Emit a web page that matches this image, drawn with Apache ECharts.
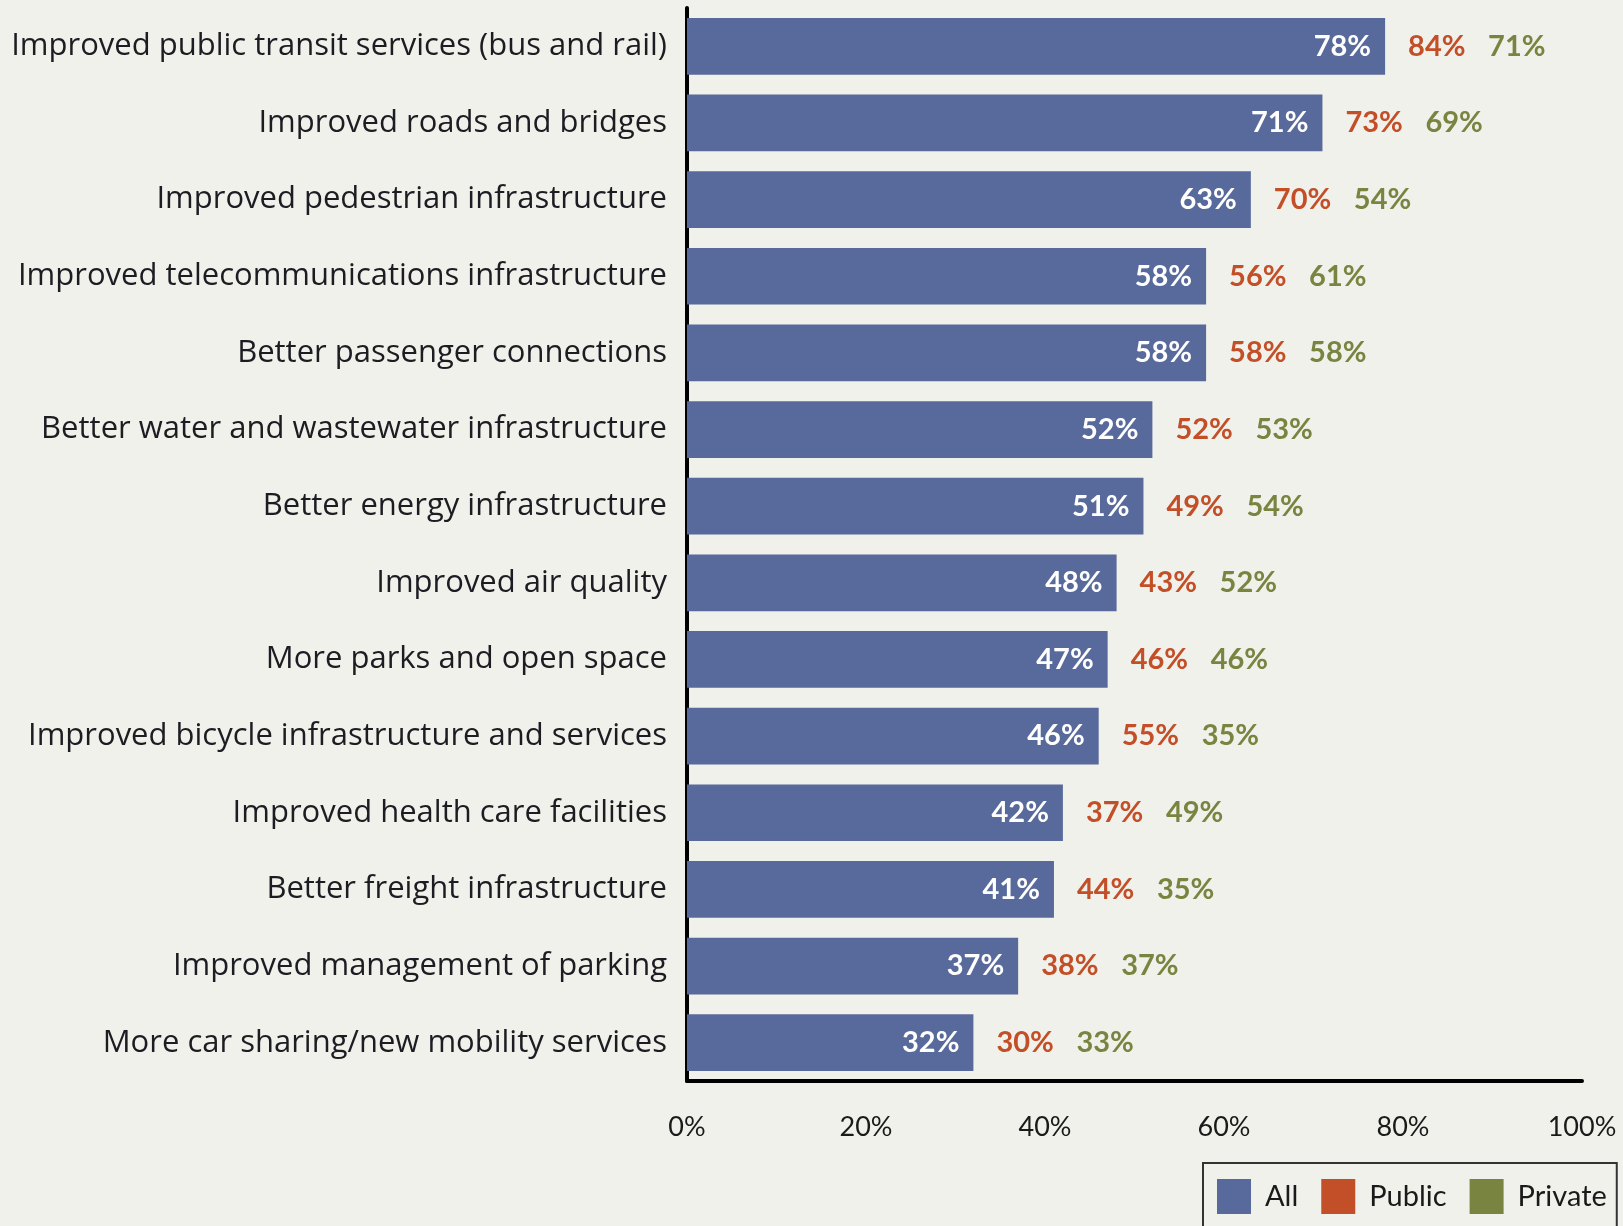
<!DOCTYPE html>
<html>
<head>
<meta charset="utf-8">
<script src="https://cdn.jsdelivr.net/npm/echarts@6/dist/echarts.min.js"></script>
<style>
  html, body { margin: 0; padding: 0; background: #f1f1ec; }
  #chart { width: 1623px; height: 1226px; }
</style>
</head>
<body>
<div id="chart"></div>
<script>
// Survey categories, top to bottom
const categories = [
  'Improved public transit services (bus and rail)',
  'Improved roads and bridges',
  'Improved pedestrian infrastructure',
  'Improved telecommunications infrastructure',
  'Better passenger connections',
  'Better water and wastewater infrastructure',
  'Better energy infrastructure',
  'Improved air quality',
  'More parks and open space',
  'Improved bicycle infrastructure and services',
  'Improved health care facilities',
  'Better freight infrastructure',
  'Improved management of parking',
  'More car sharing/new mobility services'
];
// Share of respondents (%)
const allValues     = [78, 71, 63, 58, 58, 52, 51, 48, 47, 46, 42, 41, 37, 32];
const publicValues  = [84, 73, 70, 56, 58, 52, 49, 43, 46, 55, 37, 44, 38, 30];
const privateValues = [71, 69, 54, 61, 58, 53, 54, 52, 46, 35, 49, 35, 37, 33];
const xTicks = [0, 20, 40, 60, 80, 100];

const COLOR_ALL = '#58699b';
const COLOR_PUBLIC = '#c24f27';
const COLOR_PRIVATE = '#7a8441';
const FONT = 'Lato';
const LABEL_FONT = 'Open Sans';

const chart = echarts.init(document.getElementById('chart'), null, { renderer: 'canvas' });

// Secondary values sit just past the end of each "All" bar
const publicPoints = allValues.map((v, i) => [v, i, publicValues[i]]);
const privatePoints = allValues.map((v, i) => [v, i, privateValues[i]]);

chart.setOption({
  backgroundColor: '#f1f1ec',
  animation: false,
  textStyle: { fontFamily: FONT },
  grid: { left: 687, right: 41, top: 8, height: 1073, containLabel: false },
  xAxis: {
    type: 'value',
    min: xTicks[0],
    max: xTicks[xTicks.length - 1],
    interval: 20,
    axisLine: { show: true, onZero: false, lineStyle: { color: '#000', width: 4 } },
    axisTick: { show: false },
    splitLine: { show: false },
    axisLabel: {
      formatter: '{value}%',
      margin: 33,
      fontFamily: FONT,
      fontSize: 27,
      color: '#1a1a1a'
    }
  },
  yAxis: {
    type: 'category',
    inverse: true,
    data: categories,
    axisLine: { show: true, lineStyle: { color: '#000', width: 4 } },
    axisTick: { show: false },
    axisLabel: {
      margin: 20,
      fontFamily: LABEL_FONT,
      fontSize: 31,
      color: '#1c1c22'
    }
  },
  legend: {
    left: 1203,
    top: 1163,
    orient: 'horizontal',
    icon: 'rect',
    itemWidth: 34,
    itemHeight: 35,
    itemGap: 23,
    padding: [16, 10, 40, 14],
    borderColor: '#333',
    borderWidth: 2,
    textStyle: { fontFamily: FONT, fontSize: 29, color: '#1a1a1a', padding: [0, 0, 0, 9] },
    data: ['All', 'Public', 'Private']
  },
  series: [
    {
      name: 'All',
      type: 'bar',
      data: allValues,
      barCategoryGap: '26%',
      itemStyle: { color: COLOR_ALL },
      label: {
        show: true,
        position: 'insideRight',
        distance: 14,
        formatter: '{c}%',
        fontFamily: FONT,
        fontWeight: 'bold',
        fontSize: 29,
        color: '#ffffff'
      }
    },
    {
      name: 'Public',
      type: 'scatter',
      data: publicPoints,
      symbol: 'rect',
      symbolSize: 0,
      itemStyle: { color: COLOR_PUBLIC, opacity: 1 },
      label: {
        show: true,
        position: 'right',
        distance: 23,
        formatter: p => p.value[2] + '%',
        fontFamily: FONT,
        fontWeight: 'bold',
        fontSize: 29,
        color: COLOR_PUBLIC
      }
    },
    {
      name: 'Private',
      type: 'scatter',
      data: privatePoints,
      symbol: 'rect',
      symbolSize: 0,
      itemStyle: { color: COLOR_PRIVATE, opacity: 1 },
      label: {
        show: true,
        position: 'right',
        distance: 103,
        formatter: p => p.value[2] + '%',
        fontFamily: FONT,
        fontWeight: 'bold',
        fontSize: 29,
        color: COLOR_PRIVATE
      }
    }
  ]
});
</script>
</body>
</html>
